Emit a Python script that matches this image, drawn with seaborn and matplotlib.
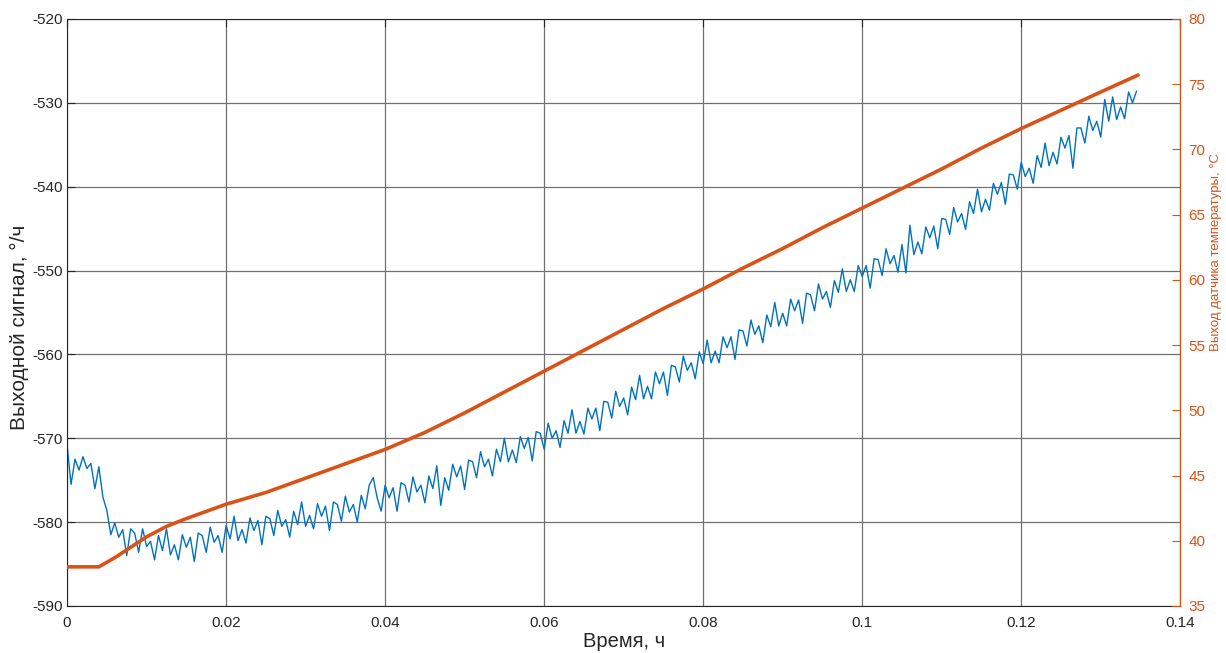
import numpy as np
import pandas as pd
import seaborn as sns
import matplotlib.pyplot as plt

# Output signal (deg/h), sampled every 0.0005 h
signal_step = 0.0005
signal_values = [
    -570.8, -575.5, -572.5, -573.8, -572.2, -573.6, -573.0, -576.0, -573.4, -577.0,
    -578.6, -581.5, -580.1, -581.8, -580.9, -584.0, -580.8, -581.3, -583.6, -580.8,
    -582.9, -582.3, -584.5, -581.6, -583.4, -580.8, -583.9, -582.7, -584.5, -581.5,
    -583.0, -581.8, -584.7, -581.3, -581.6, -583.6, -580.6, -582.4, -581.6, -583.6,
    -580.4, -582.0, -579.3, -582.2, -580.9, -582.5, -579.5, -581.0, -579.8, -582.7,
    -579.3, -579.6, -581.6, -578.6, -580.5, -579.7, -581.8, -578.7, -580.3, -577.6,
    -580.5, -579.2, -580.8, -577.8, -579.3, -578.1, -581.0, -577.6, -577.9, -579.9,
    -576.9, -578.8, -577.9, -580.0, -576.8, -578.4, -575.6, -574.7, -577.1, -578.7,
    -575.6, -577.1, -575.9, -578.7, -575.3, -575.6, -577.6, -574.6, -576.4, -575.6,
    -577.7, -574.5, -576.0, -573.3, -578.0, -574.7, -576.2, -573.1, -574.6, -573.3,
    -576.1, -572.6, -572.8, -574.7, -571.6, -573.4, -572.5, -574.5, -571.3, -572.8,
    -570.0, -572.8, -571.4, -572.9, -569.8, -571.2, -569.9, -572.7, -569.2, -569.4,
    -571.3, -568.2, -570.0, -569.1, -571.1, -567.9, -569.4, -566.6, -569.4, -568.0,
    -569.5, -566.4, -567.7, -566.4, -569.1, -565.6, -565.7, -567.6, -564.4, -566.2,
    -565.2, -567.2, -563.9, -565.4, -562.5, -565.3, -563.8, -565.3, -562.1, -563.5,
    -562.1, -564.9, -561.3, -561.5, -563.3, -560.2, -561.9, -561.0, -562.9, -559.7,
    -561.1, -558.3, -561.0, -559.6, -561.0, -557.9, -559.2, -557.9, -560.6, -557.1,
    -557.2, -559.0, -555.9, -557.6, -556.6, -558.6, -555.3, -556.7, -553.8, -556.6,
    -555.1, -556.6, -553.4, -554.8, -553.5, -556.3, -552.7, -552.9, -554.8, -551.6,
    -553.4, -552.5, -554.4, -551.2, -552.6, -549.8, -552.5, -551.1, -552.5, -549.4,
    -550.7, -549.4, -552.1, -548.6, -548.7, -550.6, -547.4, -549.2, -548.2, -550.2,
    -546.9, -550.3, -544.6, -548.1, -546.6, -548.0, -544.8, -546.1, -544.7, -547.4,
    -543.8, -543.9, -545.7, -542.5, -544.2, -543.2, -545.1, -541.8, -543.2, -540.3,
    -543.0, -541.5, -542.8, -539.6, -540.9, -539.5, -542.1, -538.5, -538.6, -540.3,
    -537.1, -538.8, -537.8, -539.6, -536.3, -537.7, -534.8, -537.5, -535.9, -537.3,
    -534.1, -535.4, -533.9, -537.8, -533.0, -533.0, -534.8, -531.6, -533.3, -532.2,
    -534.1, -529.6, -532.2, -529.3, -532.0, -530.5, -531.9, -528.7, -530.0, -528.6,
]
signal_time = [round(i * signal_step, 4) for i in range(len(signal_values))]

# Temperature sensor output (deg C)
temp_time = [0, 0.004, 0.006, 0.008, 0.01, 0.0125, 0.015, 0.02, 0.025, 0.03,
             0.035, 0.04, 0.045, 0.05, 0.055, 0.06, 0.065, 0.07, 0.075, 0.08,
             0.085, 0.09, 0.095, 0.1, 0.105, 0.11, 0.115, 0.12, 0.125, 0.13, 0.1347]
temp_values = [38.0, 38.0, 38.7, 39.5, 40.3, 41.1, 41.7, 42.8, 43.7, 44.8,
               45.9, 47.0, 48.3, 49.8, 51.4, 53.0, 54.6, 56.2, 57.8, 59.3,
               60.9, 62.4, 64.0, 65.5, 67.0, 68.5, 70.1, 71.6, 73.0, 74.4, 75.7]

x_ticks = [0, 0.02, 0.04, 0.06, 0.08, 0.1, 0.12, 0.14]
x_labels = ['0', '0.02', '0.04', '0.06', '0.08', '0.1', '0.12', '0.14']
left_ticks = [-590, -580, -570, -560, -550, -540, -530, -520]
right_ticks = [35, 40, 45, 50, 55, 60, 65, 70, 75, 80]

blue = '#0072BD'
orange = '#D95319'
dark = '#262626'

sns.set_style('white')
plt.rcParams['font.family'] = ['Liberation Sans', 'DejaVu Sans']

sig_df = pd.DataFrame({'t': signal_time, 'v': signal_values})
tmp_df = pd.DataFrame({'t': temp_time, 'v': temp_values})

fig = plt.figure(figsize=(12.26, 6.53), dpi=100)
ax = fig.add_axes([0.0547, 0.072, 0.908, 0.899])
ax2 = ax.twinx()

sns.lineplot(data=sig_df, x='t', y='v', ax=ax, color=blue, linewidth=1.0)
sns.lineplot(data=tmp_df, x='t', y='v', ax=ax2, color=orange, linewidth=2.6)

ax.set_xlim(0, 0.14)
ax.set_ylim(-590, -520)
ax2.set_ylim(35, 80)

ax.set_xticks(x_ticks)
ax.set_xticklabels(x_labels)
ax.set_yticks(left_ticks)
ax.set_yticklabels([str(v) for v in left_ticks])
ax2.set_yticks(right_ticks)
ax2.set_yticklabels([str(v) for v in right_ticks])

ax.grid(True, color='#707070', linewidth=0.9)
ax2.grid(False)

ax.tick_params(axis='both', direction='in', length=6, labelsize=11,
               colors=dark, top=True)
ax.tick_params(axis='x', pad=7)
ax.tick_params(axis='y', pad=3)
ax2.tick_params(axis='y', direction='in', length=6, labelsize=11,
                colors=orange, pad=6)

for side in ['left', 'bottom', 'top']:
    ax.spines[side].set_color(dark)
    ax.spines[side].set_linewidth(0.8)
ax2.spines['right'].set_color(orange)
ax2.spines['right'].set_linewidth(0.8)
for side in ['left', 'bottom', 'top']:
    ax2.spines[side].set_visible(False)

ax.set_xlabel('Время, ч', fontsize=14.5, color=dark, labelpad=2)
ax.set_ylabel('Выходной сигнал, °/ч', fontsize=15, color=dark)
ax.yaxis.set_label_coords(-0.034, 0.474)
ax2.set_ylabel('Выход датчика температуры, °C', fontsize=9.5, color=orange)
ax2.yaxis.set_label_coords(1.027, 0.603)

fig.savefig('out.png', dpi=100)
plt.close(fig)
